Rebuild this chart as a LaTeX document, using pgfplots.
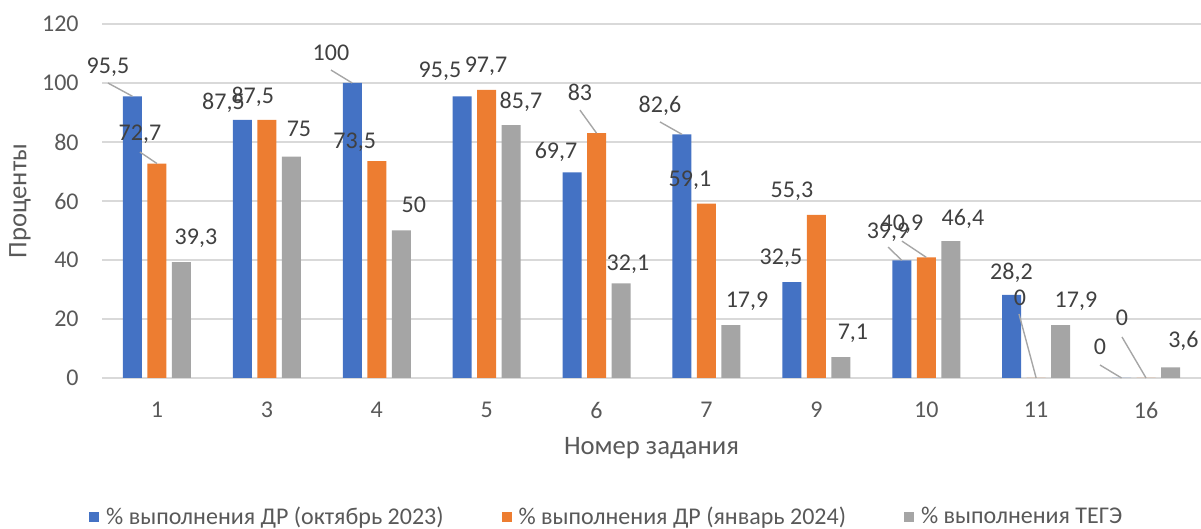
\documentclass[border=0pt]{standalone}
\usepackage{fontspec}
\setmainfont{Carlito}
\usepackage{pgfplots}
\usepackage{pgfplotstable}
\pgfplotsset{compat=1.18}
\definecolor{cblue}{HTML}{4472C4}
\definecolor{corange}{HTML}{ED7D31}
\definecolor{cgray}{HTML}{A5A5A5}
\definecolor{gridc}{HTML}{D9D9D9}
\definecolor{ticktxt}{HTML}{595959}
\definecolor{labtxt}{HTML}{404040}
\definecolor{leader}{HTML}{A6A6A6}

\pgfplotstableread{
x a b c
0 95.5 72.7 39.3
1 87.5 87.5 75
2 100 73.5 50
3 95.5 97.7 85.7
4 69.7 83 32.1
5 82.6 59.1 17.9
6 32.5 55.3 7.1
7 39.9 40.9 46.4
8 28.2 0 17.9
9 0 0 3.6
}\data

\pgfplotstableread{
x y t
-0.446 105.8 95,5
-0.155 83.1 72,7
0.355 47.8 39,3
0.605 93.7 87,5
0.872 95.9 87,5
1.292 84.4 75
1.583 110.2 100
1.799 80.3 73,5
2.338 58.6 50
2.575 104.4 95,5
2.994 106.1 97,7
3.312 94.2 85,7
3.631 77.3 69,7
3.849 96.9 83
4.286 39.0 32,1
4.577 92.9 82,6
4.850 67.5 59,1
5.369 26.4 17,9
5.678 41.0 32,5
5.778 63.7 55,3
6.333 15.6 7,1
6.652 49.8 39,9
6.779 52.5 40,9
7.334 54.6 46,4
7.775 36.3 28,2
7.853 27.3 0
8.362 26.4 17,9
8.581 10.5 0
8.781 20.3 0
9.340 13.2 3,6
}\labels

\begin{document}
\begin{tikzpicture}
\path[use as bounding box] (0,0) rectangle (600.5pt,264.5pt);
\begin{axis}[
  at={(51pt,75.5pt)}, anchor=south west,
  scale only axis, width=549.5pt, height=177pt,
  xmin=-0.5, xmax=9.5, ymin=0, ymax=120,
  ytick={0,20,...,120},
  xtick={0,...,9},
  xticklabels={1,3,4,5,6,7,9,10,11,16},
  axis line style={draw=none},
  major tick length=0pt,
  ymajorgrids, grid style={draw=gridc, line width=0.6pt},
  clip=false,
  /pgf/number format/assume math mode=true,
  ticklabel style={font=\fontsize{12}{14}\selectfont, text=ticktxt},
  yticklabel style={anchor=east, inner sep=0pt, xshift=-11.5pt},
  xticklabel style={anchor=center, inner sep=0pt, yshift=-16pt},
  xlabel={Номер задания}, ylabel={Проценты},
  label style={font=\fontsize{13.33}{15}\selectfont, text=ticktxt},
  xlabel style={at={(axis description cs:0.5,-0.1977)}, anchor=center},
  ylabel style={at={(axis description cs:-0.0746,0.5)}, anchor=center},
  legend columns=3,
  legend style={at={(axis description cs:-0.012,-0.3927)}, anchor=west,
    draw=none, inner sep=0pt, font=\fontsize{12}{14}\selectfont, text=ticktxt,
    /tikz/every even column/.append style={column sep=27pt},
    /tikz/every odd column/.append style={column sep=1.5pt}},
  legend image code/.code={\fill[#1] (0pt,-2.5pt) rectangle (5pt,2.5pt);},
]
\addplot[ybar, bar width=9.5pt, bar shift=-12.25pt, fill=cblue, draw=none] table[x=x,y=a] {\data};
\addlegendentry{\% выполнения ДР (октябрь 2023)}
\addplot[ybar, bar width=9.5pt, bar shift=0pt, fill=corange, draw=none] table[x=x,y=b] {\data};
\addlegendentry{\% выполнения ДР (январь 2024)}
\addplot[ybar, bar width=9.5pt, bar shift=12.25pt, fill=cgray, draw=none] table[x=x,y=c] {\data};
\addlegendentry{\% выполнения ТЕГЭ}

% leader lines
\addplot[forget plot, leader, line width=0.7pt] coordinates {(-0.446,100) (-0.223,95.5)};
\addplot[forget plot, leader, line width=0.7pt] coordinates {(-0.155,76.6) (0,72.7)};
\addplot[forget plot, leader, line width=0.7pt] coordinates {(1.583,104.4) (1.777,100)};
\addplot[forget plot, leader, line width=0.7pt] coordinates {(3.849,90.8) (4,83)};
\addplot[forget plot, leader, line width=0.7pt] coordinates {(4.577,86.8) (4.777,82.6)};
\addplot[forget plot, leader, line width=0.7pt] coordinates {(6.652,44.4) (6.777,39.9)};
\addplot[forget plot, leader, line width=0.7pt] coordinates {(6.779,46.4) (7.0,40.9)};
\addplot[forget plot, leader, line width=0.7pt] coordinates {(7.844,21.7) (8.0,0)};
\addplot[forget plot, leader, line width=0.7pt] coordinates {(8.581,4.4) (8.777,0)};
\addplot[forget plot, leader, line width=0.7pt] coordinates {(8.781,13.9) (9,0)};

% data labels
\addplot[forget plot, only marks, mark=none, point meta=explicit symbolic,
  nodes near coords,
  nodes near coords style={anchor=center, inner sep=0pt, text depth=0pt,
    font=\fontsize{12}{14}\selectfont, text=labtxt}]
  table[x=x, y=y, meta=t] {\labels};
\end{axis}
\end{tikzpicture}
\end{document}
